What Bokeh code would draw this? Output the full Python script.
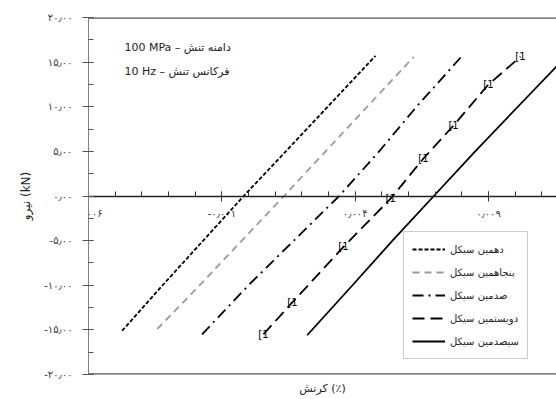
from bokeh.plotting import figure
from bokeh.models import (LinearAxis, FixedTicker, Span, Label, Legend, LegendItem,
                          Title, Range1d)
from bokeh.embed import file_html
from bokeh.resources import INLINE
from bokeh.core.properties import value

# ---- data (strain %, force kN) ----
c10_x = [-0.00474, -0.00322, -0.00170, -0.00018, 0.00140, 0.00297, 0.00476]
c10_y = [-15.1, -10.0, -5.0, 0.0, 5.0, 10.0, 15.7]

c50_x = [-0.00342, -0.00183, -0.00025, 0.00133, 0.00289, 0.00445, 0.00620]
c50_y = [-14.9, -10.0, -5.0, 0.0, 5.0, 10.0, 15.6]

c100_x = [-0.00174, 0.00000, 0.00170, 0.00340, 0.00490, 0.00630, 0.00801]
c100_y = [-15.5, -10.0, -5.0, 0.0, 5.0, 10.0, 15.7]

c200_x = [0.00056, 0.00165, 0.00356, 0.00533, 0.00656, 0.00769, 0.00900, 0.01020]
c200_y = [-15.5, -11.9, -5.7, -0.3, 4.2, 7.9, 12.5, 15.6]

c300_x = [0.00220, 0.00390, 0.00540, 0.00695, 0.00850, 0.01010, 0.01190]
c300_y = [-15.6, -10.0, -5.0, 0.0, 5.0, 10.0, 15.6]

series_names = ["دهمین سیکل", "پنجاهمین سیکل", "صدمین سیکل", "دویستمین سیکل", "سیصدمین سیکل"]

y_ticks = [-20, -15, -10, -5, 0, 5, 10, 15, 20]
y_tick_labels = ["-۲۰٫۰۰", "-۱۵٫۰۰", "-۱۰٫۰۰", "-۵٫۰۰", "۰٫۰۰", "۵٫۰۰", "۱۰٫۰۰", "۱۵٫۰۰", "۲۰٫۰۰"]
x_ticks = [-0.006, -0.001, 0.004, 0.009]
x_tick_labels = ["-۰٫۰۰۶", "-۰٫۰۰۱", "۰٫۰۰۴", "۰٫۰۰۹"]
x_minor = [round(-0.006 + 0.001 * i, 4) for i in range(0, 18)]
y_minor = [-20 + 2.5 * i for i in range(0, 17)]

ann1 = "100 MPa – دامنه تنش"
ann2 = "10 Hz – فرکانس تنش"
x_title = "کرنش (٪)"
y_title = "نیرو (kN)"

FA = "DejaVu Sans"

p = figure(width=556, height=399, output_backend="svg", toolbar_location=None,
           x_range=Range1d(-0.006, 0.01155), y_range=Range1d(-20, 20),
           x_axis_type=None, y_axis_type=None,
           min_border_left=88, min_border_right=0, min_border_top=17, min_border_bottom=0)
p.outline_line_color = None
p.xgrid.visible = False
p.ygrid.visible = False
p.background_fill_color = "white"

# y axis
yax = LinearAxis(ticker=FixedTicker(ticks=y_ticks, minor_ticks=y_minor),
                 major_label_overrides={t: l for t, l in zip(y_ticks, y_tick_labels)})
yax.axis_label = y_title
yax.axis_label_text_font = FA
yax.axis_label_text_font_style = "normal"
yax.axis_label_text_font_size = "12px"
yax.axis_label_text_color = "#222222"
yax.axis_label_standoff = 8
yax.major_label_text_font = FA
yax.major_label_text_font_size = "10px"
yax.major_label_text_color = "#333333"
yax.axis_line_color = "#808080"
yax.major_tick_line_color = "#555555"
yax.minor_tick_line_color = "#555555"
yax.major_tick_in = 5
yax.major_tick_out = 6
yax.minor_tick_in = 5
yax.minor_tick_out = 0
yax.major_label_standoff = 10
p.add_layout(yax, "left")

# x axis crossing at y = 0
xax = LinearAxis(ticker=FixedTicker(ticks=x_ticks, minor_ticks=x_minor),
                 major_label_overrides={t: l for t, l in zip(x_ticks, x_tick_labels)},
                 fixed_location=0)
xax.major_label_text_font = FA
xax.major_label_text_font_size = "10px"
xax.major_label_text_color = "#333333"
xax.axis_line_color = "#222222"
xax.axis_line_width = 1.3
xax.major_tick_line_color = "#333333"
xax.minor_tick_line_color = "#333333"
xax.major_tick_in = 5
xax.major_tick_out = 5
xax.minor_tick_in = 5
xax.minor_tick_out = 0
xax.major_label_standoff = 7
p.add_layout(xax, "below")

# frame top/bottom borders
p.add_layout(Span(location=20, dimension="width", line_color="#555555", line_width=2.5))
p.add_layout(Span(location=-20, dimension="width", line_color="#555555", line_width=2.5))

# x title
p.add_layout(Title(text=x_title, align="center", text_font=FA, text_font_size="11px",
                   text_font_style="normal", text_color="#222222"), "below")

r10 = p.line(c10_x, c10_y, line_color="black", line_width=1.8, line_dash="4 2")
r50 = p.line(c50_x, c50_y, line_color="#9a9a9a", line_width=1.8, line_dash="7 5")
r100 = p.line(c100_x, c100_y, line_color="black", line_width=1.8, line_dash="11 5 2 5")
r200 = p.line(c200_x, c200_y, line_color="black", line_width=1.8, line_dash="12 6")
m200 = p.text(c200_x, c200_y, text=value("[1"), text_font=value(FA), text_font_size="10px",
              text_align="center", text_baseline="middle", text_color="black")
r300 = p.line(c300_x, c300_y, line_color="black", line_width=1.8)

p.add_layout(Label(x=-0.00465, y=16.6, text=ann1, text_font=FA, text_font_size="11px",
                   text_color="#222222", text_baseline="middle"))
p.add_layout(Label(x=-0.00465, y=14.0, text=ann2, text_font=FA, text_font_size="11px",
                   text_color="#222222", text_baseline="middle"))

legend = Legend(items=[LegendItem(label=series_names[0], renderers=[r10]),
                       LegendItem(label=series_names[1], renderers=[r50]),
                       LegendItem(label=series_names[2], renderers=[r100]),
                       LegendItem(label=series_names[3], renderers=[r200, m200]),
                       LegendItem(label=series_names[4], renderers=[r300])],
                location=(315, 15))
legend.label_text_font = FA
legend.label_text_font_size = "10px"
legend.label_text_color = "#222222"
legend.glyph_width = 33
legend.glyph_height = 14
legend.label_height = 18
legend.spacing = 5
legend.padding = 8
legend.margin = 0
legend.border_line_color = "#999999"
legend.background_fill_alpha = 1.0
p.add_layout(legend)

open("out.html", "w").write(file_html(p, INLINE))
